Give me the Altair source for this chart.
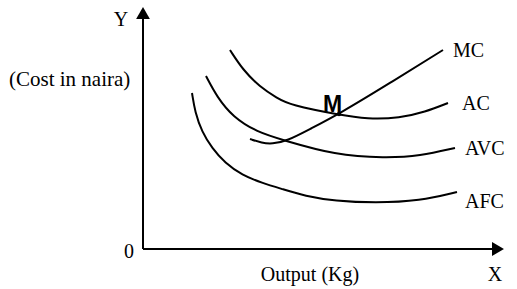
import altair as alt
import pandas as pd

# Curve values (x = output, y = cost), schematic units
ac_x = [87, 100, 117, 134, 147, 197, 224, 257, 282, 305]
ac_y = [199, 179, 162, 151, 144, 134, 130, 131, 137, 146]

avc_x = [63, 74, 90, 114, 140, 192, 242, 277, 312]
avc_y = [173, 152, 132, 117, 109, 94, 91, 93, 101]

afc_x = [49, 52, 59, 69, 82, 99, 119, 139, 162, 192, 232, 277, 314]
afc_y = [156, 137, 117, 101, 86, 74, 66, 60, 53, 48, 46, 48, 57]

mc_x = [107, 119, 129, 144, 167, 196, 247, 300]
mc_y = [110, 106, 105, 108, 120, 135, 166, 199]

# Labels
label_text = ["MC", "AC", "AVC", "AFC"]
label_x = [310, 319, 322, 322]
label_y = [192, 139, 94, 41]

m_point_x = [196]
m_point_y = [135]

rows = []
for name, xs_, ys_ in [("AC", ac_x, ac_y), ("AVC", avc_x, avc_y),
                       ("AFC", afc_x, afc_y), ("MC", mc_x, mc_y)]:
    for i, (a, b) in enumerate(zip(xs_, ys_)):
        rows.append({"curve": name, "x": a, "y": b, "order": i})
curves_df = pd.DataFrame(rows)

X_DOM = [-143, 374]
Y_DOM = [-40, 249]
xs = alt.Scale(domain=X_DOM, nice=False, zero=False)
ys = alt.Scale(domain=Y_DOM, nice=False, zero=False)

def X(f="x"):
    return alt.X(f"{f}:Q", scale=xs, axis=None)

def Y(f="y"):
    return alt.Y(f"{f}:Q", scale=ys, axis=None)

curves = alt.Chart(curves_df).mark_line(
    color="black", strokeWidth=2, interpolate="basis"
).encode(x=X(), y=Y(), detail="curve:N", order="order:Q")

# Axes
axis_df = pd.DataFrame({"x": [0, 0], "y": [0, 0], "x2": [0, 350], "y2": [234, 0]})
axes = alt.Chart(axis_df).mark_rule(color="black", strokeWidth=2).encode(
    x=X(), y=Y(), x2="x2:Q", y2="y2:Q"
)
arrow_up = alt.Chart(pd.DataFrame({"x": [0], "y": [236]})).mark_point(
    shape="triangle-up", filled=True, color="black", size=190, opacity=1
).encode(x=X(), y=Y())
arrow_right = alt.Chart(pd.DataFrame({"x": [355], "y": [0]})).mark_point(
    shape="triangle-right", filled=True, color="black", size=190, opacity=1
).encode(x=X(), y=Y())

m_dot = alt.Chart(pd.DataFrame({"x": m_point_x, "y": m_point_y})).mark_point(
    filled=True, color="black", size=20, opacity=1
).encode(x=X(), y=Y())

labels = alt.Chart(pd.DataFrame({"t": label_text, "x": label_x, "y": label_y})).mark_text(
    font="Liberation Serif", fontSize=20, align="left", baseline="alphabetic", color="black"
).encode(x=X(), y=Y(), text="t:N")

m_label = alt.Chart(pd.DataFrame({"t": ["M"], "x": [189.5], "y": [137]})).mark_text(
    font="Liberation Sans", fontWeight="bold", fontSize=23, align="center",
    baseline="alphabetic", color="black"
).encode(x=X(), y=Y(), text="t:N")

axis_text = alt.Chart(pd.DataFrame({
    "t": ["Y", "0", "Output (Kg)", "X"],
    "x": [-22, -14, 167, 352],
    "y": [223, -9, -32, -32],
})).mark_text(
    font="Liberation Serif", fontSize=20, align="center", baseline="alphabetic", color="black"
).encode(x=X(), y=Y(), text="t:N")

cost_text = alt.Chart(pd.DataFrame({"t": ["(Cost in naira)"], "x": [-134], "y": [163]})).mark_text(
    font="Liberation Serif", fontSize=21, align="left", baseline="alphabetic", color="black"
).encode(x=X(), y=Y(), text="t:N")

chart = alt.layer(
    axes, arrow_up, arrow_right, curves, m_dot, labels, m_label, axis_text, cost_text
).properties(
    width=517, height=289, padding=0, autosize=alt.AutoSizeParams(type="none"),
    background="white"
).configure_view(stroke=None)

chart.save("out.html", embed_options={"renderer": "svg", "actions": False})
